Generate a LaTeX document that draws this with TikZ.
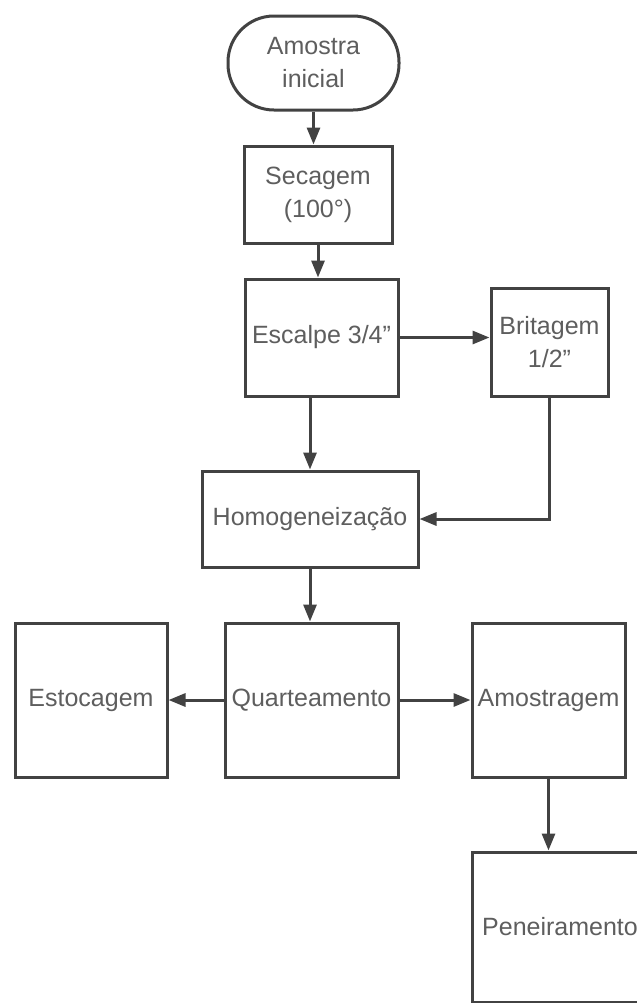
\documentclass[tikz,border=0pt]{standalone}
\usepackage{fontspec}
\setmainfont{Liberation Sans}
\usetikzlibrary{arrows.meta}
\definecolor{linegray}{HTML}{424242}
\definecolor{textgray}{HTML}{5E5E5E}
\begin{document}
\begin{tikzpicture}[x=0.5pt,y=-0.5pt,
    etapa/.style={draw=linegray,line width=1.5pt,fill=white,text=textgray,align=center,
      inner sep=0pt,font=\fontsize{12.5}{16.5}\selectfont},
    seta/.style={draw=linegray,line width=1.5pt,-{Triangle[length=8.5pt,width=6.5pt]}}]
            \clip (0,0) rectangle (637,1003);
            \node[etapa,rounded corners=23pt,minimum width=85.5pt,minimum height=47pt] (amostra) at (313.5,63) {Amostra\\inicial};
            \node[etapa,minimum width=74pt,minimum height=48.5pt] (secagem) at (318,194.5) {Secagem\\(100°)};
            \node[etapa,minimum width=76.5pt,minimum height=58.5pt] (escalpe) at (321.5,337.5) {Escalpe 3/4"};
            \node[etapa,minimum width=58.5pt,minimum height=54pt] (britagem) at (549.5,342) {Britagem\\1/2"};
            \node[etapa,minimum width=108pt,minimum height=48pt] (homog) at (310,519) {Homogeneização};
            \node[etapa,minimum width=76pt,minimum height=77pt] (estoc) at (91,700) {Estocagem};
            \node[etapa,minimum width=86.5pt,minimum height=77pt] (quart) at (311.5,700) {Quarteamento};
            \node[etapa,minimum width=76.5pt,minimum height=77pt] (amostragem) at (548.5,700) {Amostragem};
            \node[etapa,minimum width=88pt,minimum height=75pt] (penei) at (560,927) {Peneiramento};
            \draw[seta] (amostra.south) -- (amostra.south |- secagem.north);
            \draw[seta] (secagem.south) -- (secagem.south |- escalpe.north);
            \draw[seta] (escalpe.east) -- (escalpe.east -| britagem.west);
            \draw[seta] (escalpe.south -| homog.north) -- (homog.north);
            \draw[seta] (britagem.south) |- (homog.east);
            \draw[seta] (homog.south) -- (homog.south |- quart.north);
            \draw[seta] (quart.west) -- (estoc.east);
            \draw[seta] (quart.east) -- (amostragem.west);
            \draw[seta] (amostragem.south) -- (amostragem.south |- penei.north);
\end{tikzpicture}
\end{document}
